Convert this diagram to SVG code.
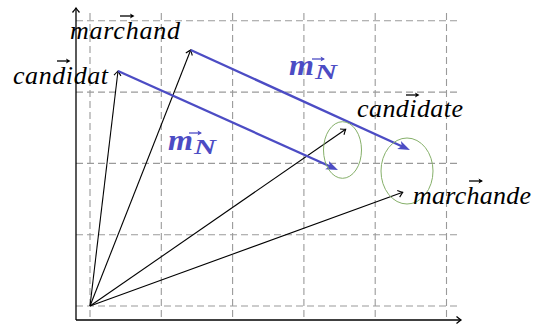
<svg xmlns="http://www.w3.org/2000/svg" width="540" height="330" viewBox="0 0 540 330">
<style>
.grid{stroke:#9a9a9a;stroke-width:1.1;stroke-dasharray:7 4;fill:none}
.axis{stroke:#000;stroke-width:1.3;fill:none}
.vec{stroke:#000;stroke-width:1.1;fill:none}
.mv{stroke:#4c4cc4;stroke-width:2.3;fill:none}
.acc{stroke:#000;stroke-width:1.3;fill:none}
.accb{stroke:#4c4cc4;stroke-width:1.3;fill:none}
.ell{stroke:#86b06a;stroke-width:1;fill:none}
.lbl{font-size:26px;fill:#000}
.blbl{font-weight:bold;fill:#4c4cc4}
</style>
<defs>
<marker id="to" markerUnits="userSpaceOnUse" markerWidth="12" markerHeight="12" viewBox="-6 -6 12 12" refX="0" refY="0" orient="auto">
<path d="M-4.5,-3.5 Q-1.2,-0.8 0,0 Q-1.2,0.8 -4.5,3.5" stroke="#000" stroke-width="1.1" fill="none"/>
</marker>
<marker id="tob" markerUnits="userSpaceOnUse" markerWidth="12" markerHeight="12" viewBox="-6 -6 12 12" refX="0" refY="0" orient="auto">
<path d="M-4.5,-3.5 Q-1.2,-0.8 0,0 Q-1.2,0.8 -4.5,3.5" stroke="#000" stroke-width="1.3" fill="none"/>
</marker>
<marker id="acc" markerUnits="userSpaceOnUse" markerWidth="8" markerHeight="8" viewBox="-4 -4 8 8" refX="0" refY="0" orient="auto">
<path d="M1.5,0 L-3,-2.6 L-2,0 L-3,2.6 z" fill="#000"/>
</marker>
<marker id="accb" markerUnits="userSpaceOnUse" markerWidth="8" markerHeight="8" viewBox="-4 -4 8 8" refX="0" refY="0" orient="auto">
<path d="M1.5,0 L-3,-2.6 L-2,0 L-3,2.6 z" fill="#4c4cc4"/>
</marker>
<marker id="big" markerUnits="userSpaceOnUse" markerWidth="20" markerHeight="20" viewBox="-10 -10 20 20" refX="0" refY="0" orient="auto">
<path d="M6,0 L-6,-4.5 L-3,0 L-6,4.5 z" fill="#4c4cc4"/>
</marker>
</defs>

<g id="grid">
<path class="grid" d="M90,13V320 M161.3,13V320 M232.6,13V320 M303.9,13V320 M375.2,13V320 M446.5,13V320"/>
<path class="grid" d="M76,306H458 M76,234.7H458 M76,163.4H458 M76,92.1H458 M76,20.8H458"/>
</g>

<g id="axes">
<line class="axis" x1="76" y1="320" x2="76" y2="8" marker-end="url(#tob)"/>
<line class="axis" x1="76" y1="320" x2="461" y2="320" marker-end="url(#tob)"/>
</g>

<g id="connectors">
<line class="vec" x1="90" y1="306" x2="118" y2="71" marker-end="url(#to)"/>
<line class="vec" x1="90" y1="306" x2="190.7" y2="50" marker-end="url(#to)"/>
<line class="vec" x1="90" y1="306" x2="345.7" y2="129.3" marker-end="url(#to)"/>
<line class="vec" x1="90" y1="306" x2="402.7" y2="192.3" marker-end="url(#to)"/>
<line class="mv" x1="118" y1="71" x2="332.5" y2="167.5" marker-end="url(#big)"/>
<line class="mv" x1="190.7" y1="50" x2="404.5" y2="147.5" marker-end="url(#big)"/>
</g>

<g id="clusters">
<ellipse class="ell" cx="342.5" cy="150" rx="19" ry="28.3"/>
<ellipse class="ell" cx="407" cy="171" rx="26" ry="33"/>
</g>

<g font-family="Liberation Serif, Times New Roman, serif" font-style="italic">
<g id="node-marchand">
<text class="lbl" x="70" y="39" textLength="110" lengthAdjust="spacing">marchand</text>
<line class="acc" x1="120" y1="16" x2="133" y2="16" marker-end="url(#acc)"/>
</g>
<g id="node-candidat">
<text class="lbl" x="13" y="84" textLength="95" lengthAdjust="spacing">candidat</text>
<line class="acc" x1="57" y1="61" x2="69" y2="61" marker-end="url(#acc)"/>
</g>
<g id="node-candidate">
<text class="lbl" x="357" y="117" textLength="106" lengthAdjust="spacing">candidate</text>
<line class="acc" x1="406" y1="95" x2="418" y2="95" marker-end="url(#acc)"/>
</g>
<g id="node-marchande">
<text class="lbl" x="413" y="204" textLength="118" lengthAdjust="spacing">marchande</text>
<line class="acc" x1="469" y1="181" x2="481.5" y2="181" marker-end="url(#acc)"/>
</g>

<g id="label-mN-1">
<text class="blbl" x="168" y="150" font-size="30" textLength="25" lengthAdjust="spacingAndGlyphs">m</text>
<text class="blbl" x="194" y="154" font-size="20" textLength="22" lengthAdjust="spacingAndGlyphs">N</text>
<line class="accb" x1="189" y1="133" x2="200.5" y2="133" marker-end="url(#accb)"/>
</g>
<g id="label-mN-2">
<text class="blbl" x="289" y="75" font-size="30" textLength="25" lengthAdjust="spacingAndGlyphs">m</text>
<text class="blbl" x="315" y="79" font-size="20" textLength="22" lengthAdjust="spacingAndGlyphs">N</text>
<line class="accb" x1="312" y1="59" x2="323.5" y2="59" marker-end="url(#accb)"/>
</g>
</g>
</svg>
